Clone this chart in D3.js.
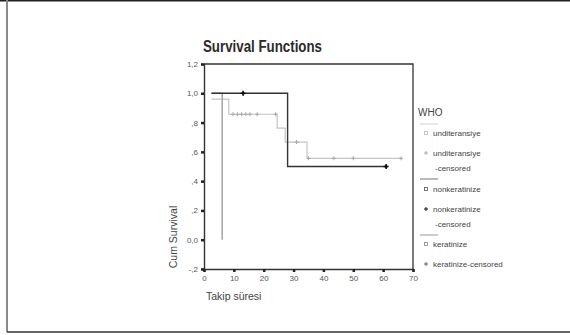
<!DOCTYPE html>
<html><head><meta charset="utf-8">
<script src="https://cdn.jsdelivr.net/npm/d3@7"></script>
<style>html,body{margin:0;padding:0;background:#fff;}svg{display:block;}</style>
</head><body>
<script>
// ---- data ----
const categories = ["unditeransiye", "nonkeratinize", "keratinize"];
const xTickValues = [0, 10, 20, 30, 40, 50, 60, 70];
const yTickValues = [-0.2, 0, 0.2, 0.4, 0.6, 0.8, 1.0, 1.2];
const yTickLabels = ["-,2", "0,0", ",2", ",4", ",6", ",8", "1,0", "1,2"];

// step curves: times and survival values
const unditTimes = [2.5, 8.3, 24.5, 27.2, 34.5, 66];
const unditSurv  = [0.96, 0.857, 0.762, 0.667, 0.556, 0.556];
const unditCensTimes = [9.7, 11.2, 12.6, 14.0, 15.4, 17.8, 24.0, 31.0, 35.0, 43.5, 50.0, 66.0];

const nonkTimes = [2.5, 28, 61];
const nonkSurv  = [1.0, 0.5, 0.5];
const nonkCensTimes = [13.1, 61.0];

const kerTimes = [2.5, 6.1];
const kerSurv  = [1.0, 0.0];
const kerCensTimes = [];

const W = 570, H = 335;
const svg = d3.select("body").append("svg").attr("width", W).attr("height", H);
const font = "'Liberation Sans', Arial, sans-serif";

// outer frame
svg.append("line").attr("x1", 0).attr("x2", W).attr("y1", 0.75).attr("y2", 0.75).attr("stroke", "#222").attr("stroke-width", 1.5);
svg.append("line").attr("x1", 7).attr("x2", 7).attr("y1", 0).attr("y2", 332).attr("stroke", "#8a8a8a").attr("stroke-width", 2);
svg.append("line").attr("x1", 7).attr("x2", W).attr("y1", 332).attr("y2", 332).attr("stroke", "#333").attr("stroke-width", 1.5);

const x = d3.scaleLinear().domain([0, 70]).range([204, 413]);
const y = d3.scaleLinear().domain([-0.2, 1.2]).range([269, 64]);

// plot frame (top & right)
svg.append("path")
  .attr("d", `M${x(0)},${y(1.2)}H${x(70)}V${y(-0.2)}`)
  .attr("fill", "none").attr("stroke", "#333").attr("stroke-width", 1.3);

// axes
const yAxis = d3.axisLeft(y).tickValues(yTickValues).tickSize(3).tickPadding(3)
  .tickFormat((d, i) => yTickLabels[i]);
const gy = svg.append("g").attr("transform", `translate(${x(0)},0)`).call(yAxis);
const xAxis = d3.axisBottom(x).tickValues(xTickValues).tickSize(3).tickPadding(3);
const gx = svg.append("g").attr("transform", `translate(0,${y(-0.2)})`).call(xAxis);
[gx, gy].forEach(g => {
  g.select(".domain").attr("stroke", "#333").attr("stroke-width", 1.4);
  g.selectAll(".tick line").attr("stroke", "#222").attr("stroke-width", 2.5);
  g.selectAll(".tick text").attr("font-family", font).attr("font-size", 8).attr("fill", "#555");
});

// curves
function stepData(times, surv) { return times.map((t, i) => [t, surv[i]]); }
const line = d3.line().x(d => x(d[0])).y(d => y(d[1])).curve(d3.curveStepAfter);
function survAt(times, surv, t) {
  let v = surv[0];
  for (let i = 0; i < times.length; i++) if (times[i] <= t) v = surv[i];
  return v;
}
const series = [
  {name: categories[0], times: unditTimes, surv: unditSurv, cens: unditCensTimes, color: "#c4c4c4", mcolor: "#a8a8a8", w: 1.2},
  {name: categories[2], times: kerTimes, surv: kerSurv, cens: kerCensTimes, color: "#a5a5a5", mcolor: "#888", w: 1.5},
  {name: categories[1], times: nonkTimes, surv: nonkSurv, cens: nonkCensTimes, color: "#333", mcolor: "#111", w: 1.4}
];
series.forEach(s => {
  svg.append("path").datum(stepData(s.times, s.surv)).attr("d", line)
    .attr("fill", "none").attr("stroke", s.color).attr("stroke-width", s.w);
  const dark = s.name === categories[1];
  s.cens.forEach(t => {
    const cx = x(t), cy = y(survAt(s.times, s.surv, t));
    const r = dark ? 2.5 : 2;
    svg.append("path").attr("d", `M${cx - r},${cy}H${cx + r}M${cx},${cy - r}V${cy + r}`)
      .attr("stroke", s.mcolor).attr("stroke-width", dark ? 1.6 : 1);
    if (dark) svg.append("circle").attr("cx", cx).attr("cy", cy).attr("r", 1.5).attr("fill", "#111");
  });
});

// title and axis titles
svg.append("text").attr("x", 203).attr("y", 52).attr("font-family", font).attr("font-weight", "bold")
  .attr("font-size", 16).attr("fill", "#2a2a2a").attr("textLength", 119).attr("lengthAdjust", "spacingAndGlyphs")
  .text("Survival Functions");
svg.append("text").attr("transform", `translate(177,237) rotate(-90)`).attr("text-anchor", "middle")
  .attr("font-family", font).attr("font-size", 10.5).attr("fill", "#444").text("Cum Survival");
svg.append("text").attr("x", 206).attr("y", 300).attr("font-family", font).attr("font-size", 10.5)
  .attr("fill", "#444").text("Takip süresi");

// legend
const lg = svg.append("g").attr("font-family", font).attr("fill", "#444");
lg.append("text").attr("x", 418).attr("y", 116).attr("font-size", 10).text("WHO");
const legendItems = [
  {type: "line", y: 124, color: "#d0d0d0"},
  {type: "square", y: 133, color: "#bbb", lines: [categories[0]]},
  {type: "plus", y: 153, color: "#aaa", lines: [categories[0], "-censored"]},
  {type: "line", y: 179, color: "#777"},
  {type: "square", y: 189, color: "#555", lines: [categories[1]]},
  {type: "plus", y: 209, color: "#111", lines: [categories[1], "-censored"]},
  {type: "line", y: 235, color: "#999"},
  {type: "square", y: 244, color: "#888", lines: [categories[2]]},
  {type: "plus", y: 264, color: "#666", lines: [categories[2] + "-censored"]}
];
legendItems.forEach(it => {
  if (it.type === "line") {
    lg.append("line").attr("x1", 420).attr("x2", 438).attr("y1", it.y).attr("y2", it.y)
      .attr("stroke", it.color).attr("stroke-width", 1);
    return;
  }
  if (it.type === "square") {
    lg.append("rect").attr("x", 424.5).attr("y", it.y - 1.5).attr("width", 3).attr("height", 3)
      .attr("fill", "none").attr("stroke", it.color).attr("stroke-width", 0.8);
  } else {
    lg.append("path").attr("d", `M${424},${it.y}H${428}M${426},${it.y - 2}V${it.y + 2}`)
      .attr("stroke", it.color).attr("stroke-width", 1);
  }
  it.lines.forEach((t, i) => {
    lg.append("text").attr("x", i === 0 ? 433 : 435).attr("y", it.y + 3 + i * 14.5)
      .attr("font-size", 8).text(t);
  });
});
</script>
</body></html>
